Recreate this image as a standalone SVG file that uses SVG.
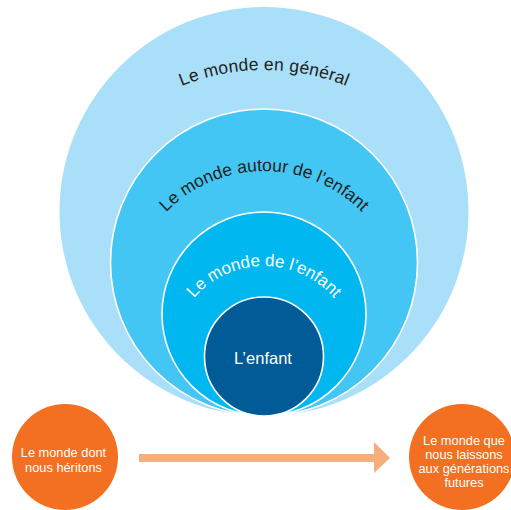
<svg xmlns="http://www.w3.org/2000/svg" width="511" height="510" viewBox="0 0 511 510">
  <style>
    .ring { stroke: #ffffff; stroke-width: 1.6; }
    .arc { font-family: "Liberation Sans", Arial, sans-serif; font-size: 17.5px; }
    .dark { fill: #231f20; }
    .light { fill: #ffffff; }
    .orange { fill: #f36f21; }
    .otext { font-family: "Liberation Sans", Arial, sans-serif; font-size: 12.8px; fill: #ffffff; text-anchor: middle; }
  </style>
  <defs>
    <path id="arc1" d="M44,290 A220,220 0 0 1 484,290"/>
    <path id="arc2" d="M127,308 A137,137 0 0 1 401,308"/>
    <path id="arc3" d="M172,358 A92,92 0 0 1 356,358"/>
  </defs>
  <rect width="511" height="510" fill="#ffffff"/>

  <g id="monde-general">
    <circle cx="264" cy="211.5" r="204.5" fill="#a9dff9"/>
    <text class="arc dark" style="letter-spacing:0.2px"><textPath href="#arc1" startOffset="50%" text-anchor="middle">Le monde en général</textPath></text>
  </g>

  <g id="monde-autour">
    <circle class="ring" cx="264" cy="262.5" r="153.5" fill="#43c6f3"/>
    <text class="arc dark"><textPath href="#arc2" startOffset="50%" text-anchor="middle">Le monde autour de l’enfant</textPath></text>
  </g>

  <g id="monde-enfant">
    <circle class="ring" cx="264" cy="314" r="102" fill="#00b8ef"/>
    <text class="arc light" style="font-size:17px"><textPath href="#arc3" startOffset="50%" text-anchor="middle">Le monde de l’enfant</textPath></text>
  </g>

  <g id="enfant">
    <circle class="ring" cx="264" cy="356.5" r="59.5" fill="#005b97"/>
    <text x="263" y="364" font-family="Liberation Sans, Arial, sans-serif" font-size="16.5" fill="#ffffff" text-anchor="middle">L’enfant</text>
  </g>

  <g id="heritons">
    <circle class="orange" cx="65" cy="457" r="53"/>
    <text class="otext" x="63.5" y="456.5">Le monde dont</text>
    <text class="otext" x="63.5" y="471.5">nous héritons</text>
  </g>

  <g id="laissons">
    <circle class="orange" cx="462" cy="457" r="53"/>
    <text class="otext" x="464" y="445">Le monde que</text>
    <text class="otext" x="464" y="459">nous laissons</text>
    <text class="otext" x="464" y="473">aux générations</text>
    <text class="otext" x="464" y="487">futures</text>
  </g>

  <g id="connectors">
    <path d="M139,454 H374 V442 L390,458 L374,473 V462 H139 Z" fill="#f7ae7e"/>
  </g>
</svg>
